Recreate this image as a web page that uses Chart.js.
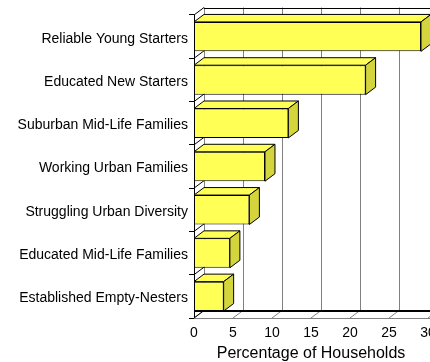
<!DOCTYPE html>
<html>
  <head>
    <title>Percentage of Households</title>
    <script src="https://cdn.jsdelivr.net/npm/chart.js"></script>
    <style>
      body {
        margin: 0;
        background-color: #ffffff;
      }
      #wrap {
        width: 430px;
        height: 362px;
      }
    </style>
  </head>
  <body>
    <div id="wrap">
      <canvas id="myChart" width="430" height="362"></canvas>
    </div>

    <script>
      var segments = [
        "Reliable Young Starters",
        "Educated New Starters",
        "Suburban Mid-Life Families",
        "Working Urban Families",
        "Struggling Urban Diversity",
        "Educated Mid-Life Families",
        "Established Empty-Nesters",
      ];
      var households = [29.1, 22.0, 12.1, 9.1, 7.1, 4.6, 3.8];
      var xTicks = [0, 5, 10, 15, 20, 25, 30];

      // 3D depth of the box (back wall is up and to the right)
      var DX = 10;
      var DY = -7.5;

      function crisp(v) {
        return Math.round(v) + 0.5;
      }

      function line(ctx, x1, y1, x2, y2, color, width) {
        ctx.beginPath();
        ctx.moveTo(x1, y1);
        ctx.lineTo(x2, y2);
        ctx.strokeStyle = color;
        ctx.lineWidth = width;
        ctx.stroke();
      }

      function poly(ctx, pts, fill) {
        ctx.beginPath();
        ctx.moveTo(pts[0][0], pts[0][1]);
        for (let i = 1; i < pts.length; i++) ctx.lineTo(pts[i][0], pts[i][1]);
        ctx.closePath();
        ctx.fillStyle = fill;
        ctx.fill();
        ctx.strokeStyle = "#000000";
        ctx.lineWidth = 1;
        ctx.stroke();
      }

      var box3d = {
        id: "box3d",
        beforeDraw(chart) {
          const ctx = chart.ctx;
          ctx.save();
          ctx.fillStyle = "#ffffff";
          ctx.fillRect(0, 0, chart.width, chart.height);
          ctx.restore();
        },
        beforeDatasetsDraw(chart) {
          const ctx = chart.ctx;
          const area = chart.chartArea;
          const xs = chart.scales.x;
          const ys = chart.scales.y;
          const top = area.top;
          const bottom = area.bottom;
          ctx.save();

          // back wall grid + floor diagonals
          xTicks.forEach((v) => {
            const px = xs.getPixelForValue(v);
            line(ctx, crisp(px + DX), top + DY, crisp(px + DX), bottom + DY, "#808080", 1);
            line(ctx, px, bottom, px + DX, bottom + DY, "#808080", 1);
          });

          // top edge of back wall
          line(ctx, area.left + DX, crisp(top + DY), chart.width, crisp(top + DY), "#000000", 1);

          // floor edges
          line(ctx, area.left, crisp(bottom), chart.width, crisp(bottom), "#808080", 1);
          line(ctx, area.left, Math.round(bottom + DY), chart.width, Math.round(bottom + DY), "#000000", 2);

          // left wall diagonals at category boundaries
          for (let i = 0; i <= segments.length; i++) {
            const y = ys.getPixelForValue(i - 0.5);
            line(ctx, area.left, y, area.left + DX, y + DY, "#000000", 1);
          }
          ctx.restore();
        },
        afterDatasetsDraw(chart) {
          const ctx = chart.ctx;
          const meta = chart.getDatasetMeta(0);
          ctx.save();
          meta.data.forEach((bar) => {
            const p = bar.getProps(["x", "y", "base", "height"], true);
            const t = p.y - p.height / 2;
            const b = p.y + p.height / 2;
            // top face
            poly(ctx, [
              [p.base, t],
              [p.base + DX, t + DY],
              [p.x + DX, t + DY],
              [p.x, t],
            ], "#ffff55");
            // right face
            poly(ctx, [
              [p.x, t],
              [p.x + DX, t + DY],
              [p.x + DX, b + DY],
              [p.x, b],
            ], "#d4d43c");
          });
          ctx.restore();
        },
      };

      var ctx = document.getElementById("myChart").getContext("2d");

      var myChart = new Chart(ctx, {
        type: "bar",
        data: {
          labels: segments,
          datasets: [{
            label: "Percentage of Households",
            data: households,
            backgroundColor: "#ffff55",
            borderColor: "#000000",
            borderWidth: 1,
            borderSkipped: false,
            barPercentage: 0.68,
            categoryPercentage: 1,
          }],
        },
        options: {
          indexAxis: "y",
          responsive: false,
          animation: false,
          layout: {
            padding: { top: 15, right: 2, bottom: 0, left: 0 },
          },
          plugins: {
            legend: { display: false },
            tooltip: { enabled: false },
          },
          scales: {
            x: {
              min: 0,
              max: 30,
              afterBuildTicks: (scale) => {
                scale.ticks = xTicks.map((v) => ({ value: v }));
              },
              afterFit: (scale) => {
                scale.paddingLeft = 0;
                scale.paddingRight = 0;
                scale.height = 44;
              },
              grid: { display: false, drawTicks: false },
              border: { display: false },
              ticks: {
                padding: 7,
                maxRotation: 0,
                autoSkip: false,
                color: "#000000",
                font: { family: "'Liberation Sans', Arial, sans-serif", size: 14 },
              },
              title: {
                display: true,
                text: "Percentage of Households",
                color: "#000000",
                padding: { top: 0, bottom: -1 },
                font: { family: "'Liberation Sans', Arial, sans-serif", size: 16 },
              },
            },
            y: {
              afterFit: (scale) => {
                scale.width = 194;
                scale.paddingTop = 0;
                scale.paddingBottom = 0;
              },
              grid: {
                drawOnChartArea: false,
                drawTicks: true,
                tickLength: 5,
                color: "#000000",
              },
              border: { display: true, color: "#000000", width: 1 },
              ticks: {
                padding: 1,
                labelOffset: 2,
                color: "#000000",
                font: { family: "'Liberation Sans', Arial, sans-serif", size: 14 },
              },
            },
          },
        },
        plugins: [box3d],
      });
    </script>
  </body>
</html>
